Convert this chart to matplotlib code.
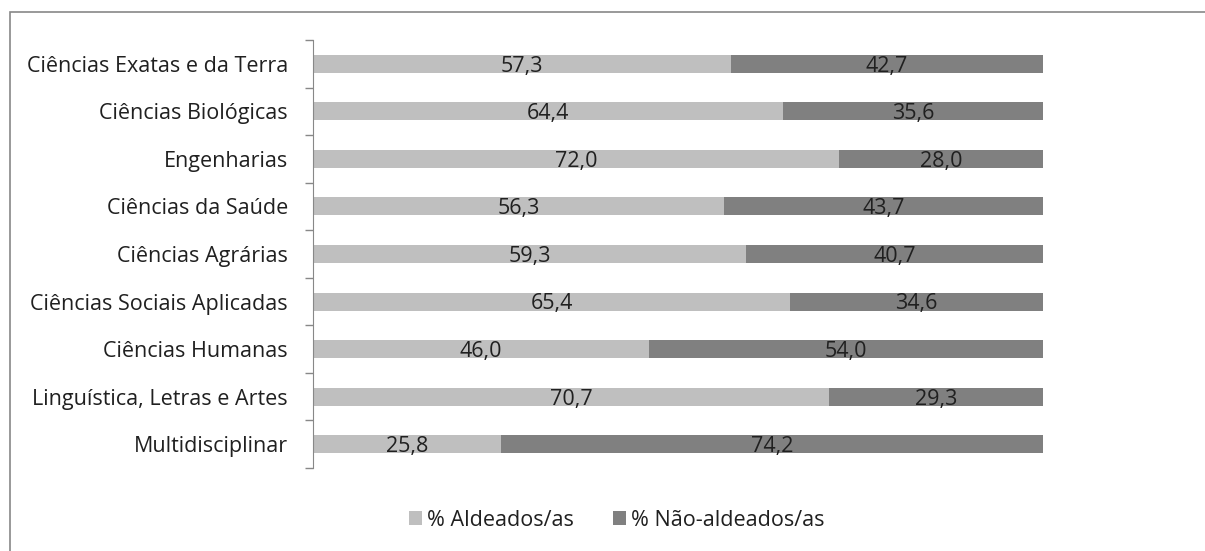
import matplotlib.pyplot as plt
from matplotlib.patches import Rectangle

categorias = ['Ciências Exatas e da Terra', 'Ciências Biológicas', 'Engenharias',
              'Ciências da Saúde', 'Ciências Agrárias', 'Ciências Sociais Aplicadas',
              'Ciências Humanas', 'Linguística, Letras e Artes', 'Multidisciplinar']
aldeados = [57.3, 64.4, 72.0, 56.3, 59.3, 65.4, 46.0, 70.7, 25.8]
nao_aldeados = [42.7, 35.6, 28.0, 43.7, 40.7, 34.6, 54.0, 29.3, 74.2]

plt.rcParams['font.family'] = ['Open Sans', 'DejaVu Sans']
fs = 15.5

fig = plt.figure(figsize=(12.05, 5.51), dpi=100)
ax = fig.add_axes([313/1205, 1-468/551, (1043-313)/1205, 428/551])

y = list(range(len(categorias)))
c1, c2 = '#bfbfbf', '#808080'
b1 = ax.barh(y, aldeados, height=0.38, color=c1, label='% Aldeados/as')
b2 = ax.barh(y, nao_aldeados, left=aldeados, height=0.38, color=c2, label='% Não-aldeados/as')

for i in y:
    ax.text(aldeados[i]/2, i + 0.05, f'{aldeados[i]:.1f}'.replace('.', ','), ha='center', va='center',
            fontsize=fs, color='#202020')
    ax.text(aldeados[i] + nao_aldeados[i]/2, i + 0.05, f'{nao_aldeados[i]:.1f}'.replace('.', ','),
            ha='center', va='center', fontsize=fs, color='#202020')

ax.set_xlim(0, 100)
ax.set_ylim(len(categorias) - 0.5, -0.5)
ax.set_yticks(y)
ax.set_yticklabels(categorias, fontsize=fs, color='#202020')
ax.set_yticks([i - 0.5 for i in range(len(categorias) + 1)], minor=True)
ax.tick_params(axis='y', which='major', length=0, pad=18)
ax.tick_params(axis='y', which='minor', length=6, color='#888888', width=1)
ax.set_xticks([])
for s in ['top', 'right', 'bottom']:
    ax.spines[s].set_visible(False)
ax.spines['left'].set_color('#888888')

leg = fig.legend(handles=[b1, b2], loc='center', bbox_to_anchor=(617/1205, 1-520/551), ncol=2,
                 frameon=False, fontsize=fs, handlelength=0.6, handleheight=0.6,
                 handletextpad=0.25, columnspacing=1.8)
for t in leg.get_texts():
    t.set_color('#202020')

# borda da área do gráfico
fig.add_artist(Rectangle((10/1205, -0.1), 1.2, 1-12/551+0.1, transform=fig.transFigure,
                         fill=False, edgecolor='#888888', linewidth=1.2))

fig.savefig('out.png', dpi=100)
